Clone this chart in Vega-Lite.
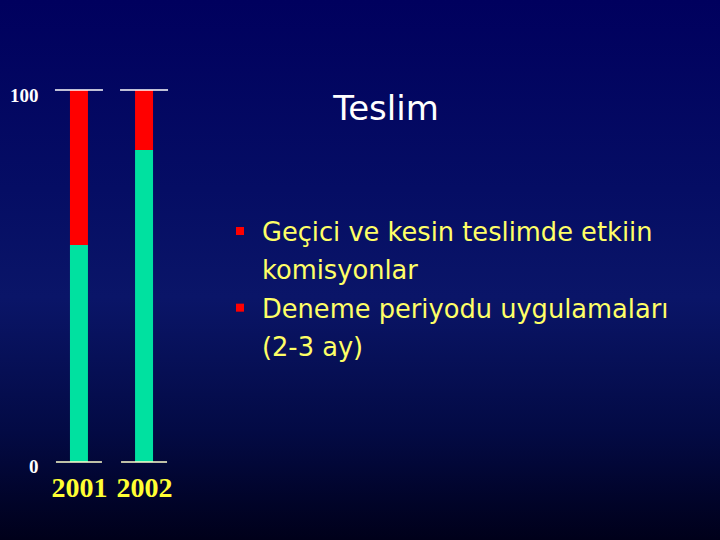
{
  "$schema": "https://vega.github.io/schema/vega-lite/v6.json",
  "description": "Teslim: two stacked bars (2001, 2002) with bullet notes.",
  "width": 720,
  "height": 540,
  "autosize": {"type": "none"},
  "padding": 0,
  "background": "#000033",
  "title": {
    "text": "Teslim",
    "font": "DejaVu Sans",
    "fontSize": 34,
    "fontWeight": "normal",
    "color": "#ffffff",
    "anchor": "middle",
    "baseline": "alphabetic",
    "offset": 0,
    "dx": 26,
    "dy": 154
  },
  "datasets": {
    "bars": [
      {"year": 2001, "part": "green", "rank": 1, "value": 58.3},
      {"year": 2001, "part": "red", "rank": 2, "value": 41.7},
      {"year": 2002, "part": "green", "rank": 1, "value": 83.9},
      {"year": 2002, "part": "red", "rank": 2, "value": 16.1}
    ],
    "edges": [
      {"year": 2001, "level": 100, "edge": "top"},
      {"year": 2002, "level": 100, "edge": "top"},
      {"year": 2001, "level": 0, "edge": "bottom"},
      {"year": 2002, "level": 0, "edge": "bottom"}
    ],
    "notes": [
      {"line": 1, "kind": "bullet", "label": ""},
      {"line": 1, "kind": "text", "label": "Geçici ve kesin teslimde etkiin"},
      {"line": 2, "kind": "text", "label": "komisyonlar"},
      {"line": 3, "kind": "bullet", "label": ""},
      {"line": 3, "kind": "text", "label": "Deneme periyodu uygulamaları"},
      {"line": 4, "kind": "text", "label": "(2-3 ay)"}
    ]
  },
  "layer": [
    {
      "data": {"values": [{}]},
      "mark": {
        "type": "rect",
        "fill": {
          "gradient": "linear",
          "x1": 0, "y1": 0, "x2": 0, "y2": 1,
          "stops": [
            {"offset": 0, "color": "#00005e"},
            {"offset": 0.35, "color": "#050d64"},
            {"offset": 0.55, "color": "#0a1568"},
            {"offset": 0.8, "color": "#030a44"},
            {"offset": 1, "color": "#00001a"}
          ]
        }
      },
      "encoding": {}
    },
    {
      "layer": [
        {
          "data": {"name": "bars"},
          "mark": {"type": "bar", "size": 18},
          "encoding": {
            "x": {
              "field": "year",
              "type": "quantitative",
              "scale": {"domain": [1999.8636, 2010.7727], "nice": false, "zero": false},
              "axis": {
                "values": [2001, 2002],
                "format": "d",
                "orient": "bottom",
                "offset": -78,
                "zindex": 1,
                "domain": false,
                "ticks": false,
                "grid": false,
                "labelFlush": false,
                "labelPadding": 12,
                "labelFont": "Liberation Serif",
                "labelFontWeight": "bold",
                "labelFontSize": 28,
                "labelColor": "#ffff33",
                "title": null
              }
            },
            "y": {
              "field": "value",
              "type": "quantitative",
              "stack": "zero",
              "scale": {"domain": [-20.968, 124.194], "nice": false, "zero": false},
              "axis": {
                "values": [0, 100],
                "orient": "left",
                "offset": -40,
                "zindex": 1,
                "domain": false,
                "ticks": false,
                "grid": false,
                "labelPadding": 2,
                "labelOffset": 5,
                "labelFont": "Liberation Serif",
                "labelFontWeight": "bold",
                "labelFontSize": 19,
                "labelColor": "#ffffff",
                "title": null
              }
            },
            "color": {
              "field": "part",
              "type": "nominal",
              "scale": {"domain": ["green", "red"], "range": ["#00e1a0", "#ff0000"]},
              "legend": null
            },
            "order": {"field": "rank", "type": "quantitative"}
          }
        },
        {
          "data": {"name": "edges"},
          "transform": [{"filter": "datum.edge === 'top'"}],
          "mark": {"type": "tick", "orient": "horizontal", "size": 48, "thickness": 1.5, "color": "#ffffff", "opacity": 1},
          "encoding": {
            "x": {"field": "year", "type": "quantitative"},
            "y": {"field": "level", "type": "quantitative"}
          }
        },
        {
          "data": {"name": "edges"},
          "transform": [{"filter": "datum.edge === 'bottom'"}],
          "mark": {"type": "tick", "orient": "horizontal", "size": 46, "thickness": 1.5, "color": "#ffffcc", "opacity": 1},
          "encoding": {
            "x": {"field": "year", "type": "quantitative"},
            "y": {"field": "level", "type": "quantitative"}
          }
        }
      ]
    },
    {
      "data": {"name": "notes"},
      "layer": [
        {
          "transform": [{"filter": "datum.kind === 'text'"}],
          "mark": {
            "type": "text",
            "align": "left",
            "baseline": "alphabetic",
            "font": "DejaVu Sans",
            "fontSize": 25.7,
            "color": "#ffff66"
          },
          "encoding": {
            "x": {
              "field": "kind",
              "type": "nominal",
              "scale": {"type": "point", "domain": ["bullet", "text"], "range": [240, 262], "padding": 0},
              "axis": null
            },
            "y": {
              "field": "line",
              "type": "ordinal",
              "scale": {"type": "point", "domain": [1, 2, 3, 4], "range": [241, 356], "padding": 0},
              "axis": null
            },
            "text": {"field": "label"}
          }
        },
        {
          "transform": [{"filter": "datum.kind === 'bullet'"}],
          "mark": {"type": "square", "size": 64, "color": "#ff0000", "opacity": 1},
          "encoding": {
            "x": {"field": "kind", "type": "nominal", "axis": null},
            "y": {"field": "line", "type": "ordinal", "axis": null},
            "yOffset": {"value": -10}
          }
        }
      ]
    }
  ],
  "resolve": {"scale": {"x": "independent", "y": "independent"}},
  "config": {
    "view": {"stroke": null}
  }
}
